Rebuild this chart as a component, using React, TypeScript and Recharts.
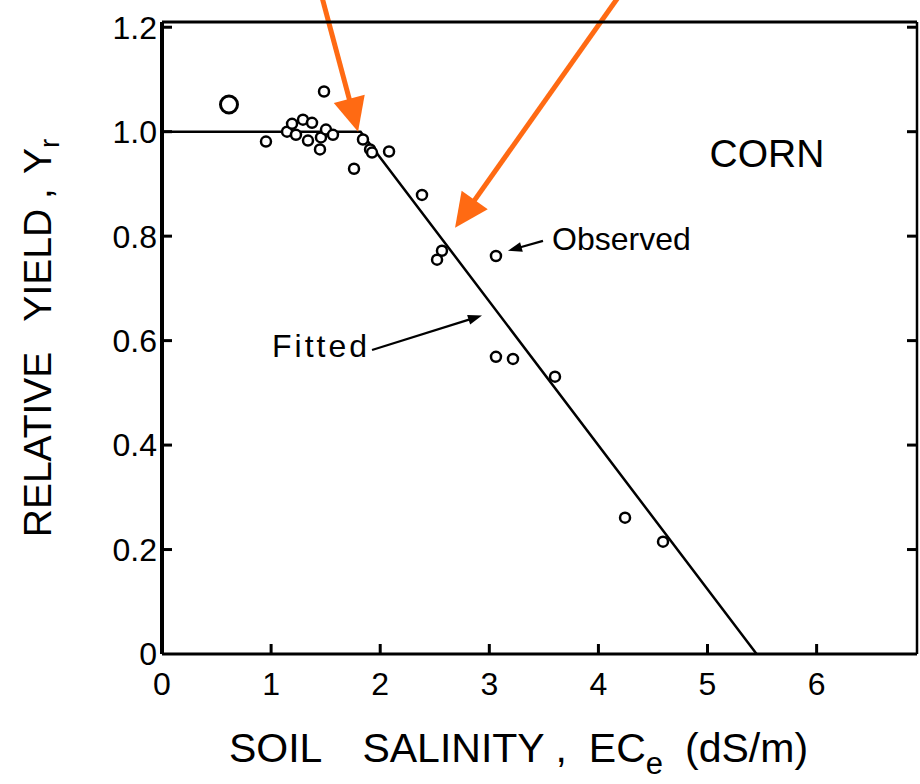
import React from "react";
import {
  ComposedChart,
  Scatter,
  Line,
  XAxis,
  YAxis,
  ReferenceLine,
  ReferenceDot,
} from "recharts";

// axis ticks
const xTicks = [0, 1, 2, 3, 4, 5, 6];
const yTicks = [0, 0.2, 0.4, 0.6, 0.8, 1.0, 1.2];

// observed relative yield vs ECe
const observed = [
  { x: 0.953, y: 0.981 },
  { x: 1.485, y: 1.077 },
  { x: 1.146, y: 1.0 },
  { x: 1.192, y: 1.015 },
  { x: 1.292, y: 1.023 },
  { x: 1.375, y: 1.017 },
  { x: 1.228, y: 0.994 },
  { x: 1.338, y: 0.983 },
  { x: 1.457, y: 0.989 },
  { x: 1.503, y: 1.004 },
  { x: 1.567, y: 0.994 },
  { x: 1.448, y: 0.966 },
  { x: 1.842, y: 0.985 },
  { x: 1.907, y: 0.966 },
  { x: 1.925, y: 0.96 },
  { x: 2.081, y: 0.962 },
  { x: 1.76, y: 0.929 },
  { x: 2.383, y: 0.879 },
  { x: 2.566, y: 0.772 },
  { x: 2.521, y: 0.755 },
  { x: 3.061, y: 0.762 },
  { x: 3.061, y: 0.569 },
  { x: 3.217, y: 0.565 },
  { x: 3.602, y: 0.531 },
  { x: 4.244, y: 0.261 },
  { x: 4.592, y: 0.215 },
];
const observedLarge = [{ x: 0.614, y: 1.052 }];

// fitted piecewise-linear response
const fitted = [
  { x: 0, y: 1 },
  { x: 1.82, y: 1 },
  { x: 5.45, y: 0 },
];

// annotation arrows (tail -> tip), in data units
const orangeArrows = [
  [{ x: 1.467, y: 1.257 }, { x: 1.797, y: 1.0 }],
  [{ x: 4.18, y: 1.257 }, { x: 2.686, y: 0.816 }],
];
const blackArrows = [
  [{ x: 3.492, y: 0.791 }, { x: 3.171, y: 0.772 }],
  [{ x: 1.925, y: 0.582 }, { x: 2.933, y: 0.648 }],
];

const cropLabel = { text: "CORN", x: 5.545, y: 0.933 };
const observedLabel = { text: "Observed", x: 3.575, y: 0.774 };
const fittedLabel = { text: "Fitted", x: 1.008, y: 0.569 };

const FONT = "'Liberation Sans', Arial, Helvetica, sans-serif";
const TICK_LEN = 10;
const TICK_W = 3;

function arrowShape(color: string, width: number, headLen: number, headHalf: number) {
  return (props: any) => {
    const { x1, y1, x2, y2 } = props;
    const dx = x2 - x1;
    const dy = y2 - y1;
    const len = Math.hypot(dx, dy) || 1;
    const ux = dx / len;
    const uy = dy / len;
    const bx = x2 - ux * headLen;
    const by = y2 - uy * headLen;
    const px = -uy;
    const py = ux;
    return (
      <g>
        <line x1={x1} y1={y1} x2={bx + ux * 2} y2={by + uy * 2} stroke={color} strokeWidth={width} />
        <polygon
          points={`${x2},${y2} ${bx + px * headHalf},${by + py * headHalf} ${bx - px * headHalf},${by - py * headHalf}`}
          fill={color}
        />
      </g>
    );
  };
}

const orangeArrow = arrowShape("#FF6A13", 5, 34, 16);
const blackArrow = arrowShape("#000", 2.2, 14, 5);

const openCircle = (r: number, sw: number) => (p: any) =>
  <circle cx={p.cx} cy={p.cy} r={r} fill="#fff" stroke="#000" strokeWidth={sw} />;

// inward tick marks, drawn by hand so they point into the plot
const BOTTOM_MARGIN = 18;
const LEFT_MARGIN = 5;

function BottomTick(props: any) {
  const { x, y, payload } = props;
  const axisY = y - BOTTOM_MARGIN;
  return (
    <g>
      {payload.value !== 0 && (
        <path d={`M${x},${axisY}V${axisY - TICK_LEN}`} stroke="#000" strokeWidth={TICK_W} fill="none" />
      )}
      <text x={x} y={y} dy="0.71em" textAnchor="middle" fontFamily={FONT} fontSize={32} fill="#000">
        {payload.value}
      </text>
    </g>
  );
}

function LeftTick(props: any) {
  const { x, y, payload } = props;
  const axisX = x + LEFT_MARGIN;
  const v = payload.value;
  return (
    <g>
      {v !== 0 && (
        <path d={`M${axisX},${y}H${axisX + TICK_LEN}`} stroke="#000" strokeWidth={TICK_W} fill="none" />
      )}
      <text x={x} y={y} dy="0.355em" textAnchor="end" fontFamily={FONT} fontSize={32} fill="#000">
        {v === 0 ? "0" : v.toFixed(1)}
      </text>
    </g>
  );
}

function TopTick(props: any) {
  const { x, y, payload } = props;
  if (payload.value === 0) return <g />;
  return <path d={`M${x},${y}V${y + TICK_LEN}`} stroke="#000" strokeWidth={TICK_W} fill="none" />;
}

function RightTick(props: any) {
  const { x, y, payload } = props;
  if (payload.value === 0) return <g />;
  return <path d={`M${x},${y}H${x - TICK_LEN}`} stroke="#000" strokeWidth={TICK_W} fill="none" />;
}

function XTitle({ viewBox }: any) {
  const cx = viewBox.x + viewBox.width / 2 - 21;
  const y = viewBox.y + 108;
  return (
    <text x={cx} y={y} textAnchor="middle" fontFamily={FONT} fontSize={41} fill="#000">
      <tspan>SOIL</tspan>
      <tspan dx={40}>SALINITY</tspan>
      <tspan dx={16}>,</tspan>
      <tspan dx={22}>EC</tspan>
      <tspan fontSize={31} dy={12}>e</tspan>
      <tspan dx={22} dy={-12}>(dS/m)</tspan>
    </text>
  );
}

function YTitle({ viewBox }: any) {
  const x = viewBox.x - 31;
  const cy = viewBox.y + viewBox.height / 2;
  return (
    <text
      x={x}
      y={cy}
      transform={`rotate(-90, ${x}, ${cy})`}
      textAnchor="middle"
      fontFamily={FONT}
      fontSize={39}
      fill="#000"
    >
      <tspan>RELATIVE</tspan>
      <tspan dx={30}>YIELD</tspan>
      <tspan dx={10}>,</tspan>
      <tspan dx={14}>Y</tspan>
      <tspan fontSize={28} dy={8}>r</tspan>
    </text>
  );
}

const noteText = (text: string, size: number, anchor: string, spacing = 0) => (p: any) =>
  (
    <text
      x={p.cx}
      y={p.cy}
      textAnchor={anchor as any}
      fontFamily={FONT}
      fontSize={size}
      letterSpacing={spacing}
      fill="#000"
    >
      {text}
    </text>
  );

export default function App() {
  return (
    <div
      style={{
        position: "fixed",
        left: 0,
        top: 0,
        width: 920,
        height: 784,
        overflow: "hidden",
        background: "#fff",
      }}
    >
      <ComposedChart width={920} height={784} margin={{ top: 21, right: 2, bottom: 70, left: 82 }}>
        <XAxis
          dataKey="x"
          type="number"
          domain={[0, 6.92]}
          ticks={xTicks}
          interval={0}
          allowDataOverflow
          tick={BottomTick}
          tickLine={false}
          tickSize={0}
          tickMargin={BOTTOM_MARGIN}
          height={60}
          axisLine={{ stroke: "#000", strokeWidth: 3 }}
          label={{ content: XTitle }}
        />
        <XAxis
          xAxisId="top"
          orientation="top"
          type="number"
          domain={[0, 6.92]}
          ticks={xTicks}
          interval={0}
          allowDataOverflow
          tick={TopTick}
          tickLine={false}
          tickSize={0}
          tickMargin={0}
          height={1}
          axisLine={{ stroke: "#000", strokeWidth: 3 }}
        />
        <YAxis
          dataKey="y"
          type="number"
          domain={[0, 1.21]}
          ticks={yTicks}
          interval={0}
          allowDataOverflow
          tick={LeftTick}
          tickLine={false}
          tickSize={0}
          tickMargin={LEFT_MARGIN}
          width={80}
          axisLine={{ stroke: "#000", strokeWidth: 4 }}
          label={{ content: YTitle }}
        />
        <YAxis
          yAxisId="right"
          orientation="right"
          type="number"
          domain={[0, 1.21]}
          ticks={yTicks}
          interval={0}
          allowDataOverflow
          tick={RightTick}
          tickLine={false}
          tickSize={0}
          tickMargin={0}
          width={1}
          axisLine={{ stroke: "#000", strokeWidth: 2.5 }}
        />

        <Line
          data={fitted}
          dataKey="y"
          type="linear"
          stroke="#000"
          strokeWidth={2.5}
          dot={false}
          activeDot={false}
          isAnimationActive={false}
        />
        <Scatter data={observed} dataKey="y" shape={openCircle(5, 2.5)} isAnimationActive={false} />
        <Scatter data={observedLarge} dataKey="y" shape={openCircle(8.5, 3)} isAnimationActive={false} />

        {blackArrows.map((seg, i) => (
          <ReferenceLine key={`b${i}`} segment={seg} ifOverflow="visible" shape={blackArrow} />
        ))}
        {orangeArrows.map((seg, i) => (
          <ReferenceLine key={`o${i}`} segment={seg} ifOverflow="visible" shape={orangeArrow} />
        ))}

        <ReferenceDot
          x={cropLabel.x}
          y={cropLabel.y}
          ifOverflow="visible"
          shape={noteText(cropLabel.text, 39, "middle")}
        />
        <ReferenceDot
          x={observedLabel.x}
          y={observedLabel.y}
          ifOverflow="visible"
          shape={noteText(observedLabel.text, 32, "start")}
        />
        <ReferenceDot
          x={fittedLabel.x}
          y={fittedLabel.y}
          ifOverflow="visible"
          shape={noteText(fittedLabel.text, 32, "start", 3)}
        />
      </ComposedChart>
    </div>
  );
}
